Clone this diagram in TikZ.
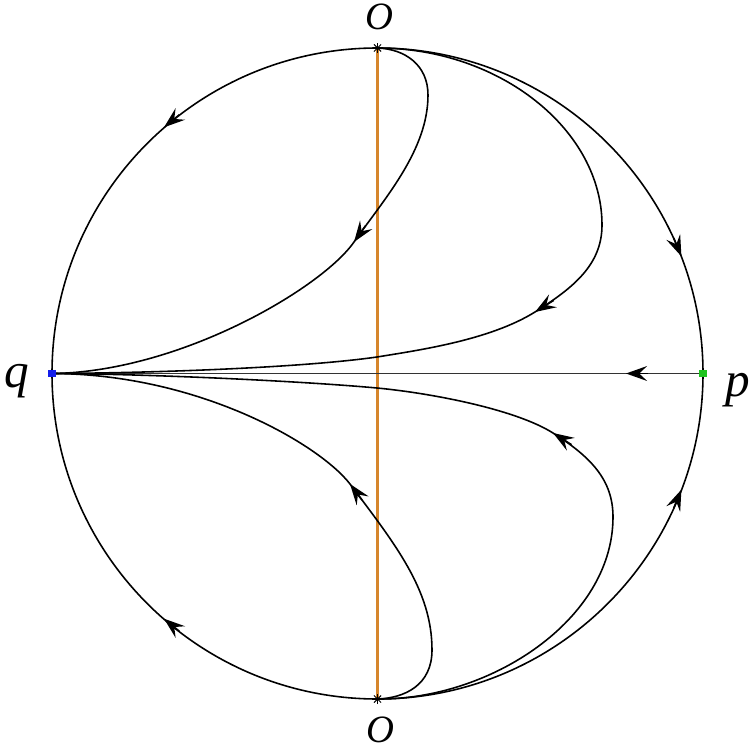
\documentclass[tikz,border=0pt]{standalone}
\usepackage{fontspec}
\setmainfont{Liberation Serif}
\usetikzlibrary{arrows.meta}
\begin{document}
\begin{tikzpicture}[x=0.02cm,y=-0.02cm,
  curve/.style={line width=0.9pt, line join=round},
  tipst/.style={-{Stealth[length=12pt,width=8.5pt,inset=4.5pt]}, line width=0.9pt},
  orangeline/.style={draw={rgb,255:red,214;green,134;blue,44}, line width=1.2pt},
  axisline/.style={draw=black!80, line width=0.9pt},
  lbl/.style={font=\itshape\fontsize{28}{30}\selectfont, inner sep=0pt},
  olbl/.style={font=\itshape\fontsize{22}{24}\selectfont, inner sep=0pt},
  starline/.style={line width=0.6pt}]
\useasboundingbox (0,0) rectangle (754,750);
\coordinate (C) at (377.5,373.5);
\coordinate (Ot) at (377.5,48);
\coordinate (Ob) at (377.5,699);
\coordinate (q) at (52,373.5);
\coordinate (p) at (703,373.5);

% vertical orange line and horizontal axis
\draw[orangeline] (Ot) -- (Ob);
\draw[axisline] (p) -- (q);

% circle at infinity
\draw[curve] (C) circle[radius=325.5];

% upper inner orbit
\draw[curve] (Ot) .. controls (405,49) and (428,65) .. (428,95)
  .. controls (428,150) and (385,198) .. (354,242)
  .. controls (322,288) and (180,372) .. (q);
% upper outer orbit
\draw[curve] (Ot) .. controls (500,48) and (602,130) .. (602,225)
  .. controls (602,265) and (573,288) .. (535,312)
  .. controls (490,340) and (420,350) .. (377,357)
  .. controls (300,368) and (150,373) .. (q);
% lower outer orbit
\draw[curve] (Ob) .. controls (490,700) and (613,620) .. (613,517)
  .. controls (613,480) and (591,457) .. (553,433)
  .. controls (515,409) and (430,393) .. (377,388)
  .. controls (300,381) and (150,374) .. (q);
% lower inner orbit
\draw[curve] (q) .. controls (200,374) and (320,445) .. (350,484)
  .. controls (395,544) and (432,590) .. (432,650)
  .. controls (432,685) and (405,698) .. (Ob);

% arrowheads
\draw[tipst] (179.3,114.8) -- (164.0,127.3);
\draw[tipst] (673.7,238.0) -- (681.4,256.4);
\draw[tipst] (673.7,508.0) -- (681.4,489.6);
\draw[tipst] (179.3,631.2) -- (164.0,618.7);
\draw[tipst] (648,373.5) -- (626,373.5);
\draw[tipst] (365.5,225.7) -- (354,242);
\draw[tipst] (553.7,300.4) -- (535,312);
\draw[tipst] (571.6,444.7) -- (553,433);
\draw[tipst] (362,500) -- (350,484);

% singular points
\node[fill={rgb,255:red,20;green,30;blue,235}, minimum size=4.5pt, inner sep=0pt] (qm) at (q) {};
\node[fill={rgb,255:red,30;green,195;blue,30}, minimum size=4pt, inner sep=0pt] (pm) at (p) {};
\foreach \a in {0,45,90,135} {
  \draw[starline] (Ot) ++(\a:5) -- ++(\a+180:10);
  \draw[starline] (Ob) ++(\a:5) -- ++(\a+180:10);
}

% labels
\node[olbl] (Otl) at (379,17) {O};
\node[olbl] (Obl) at (380,730) {O};
\node[lbl, anchor=base] (ql) at (17,387) {q};
\node[lbl, anchor=base] (pl) at (738,396) {p};
\end{tikzpicture}
\end{document}
